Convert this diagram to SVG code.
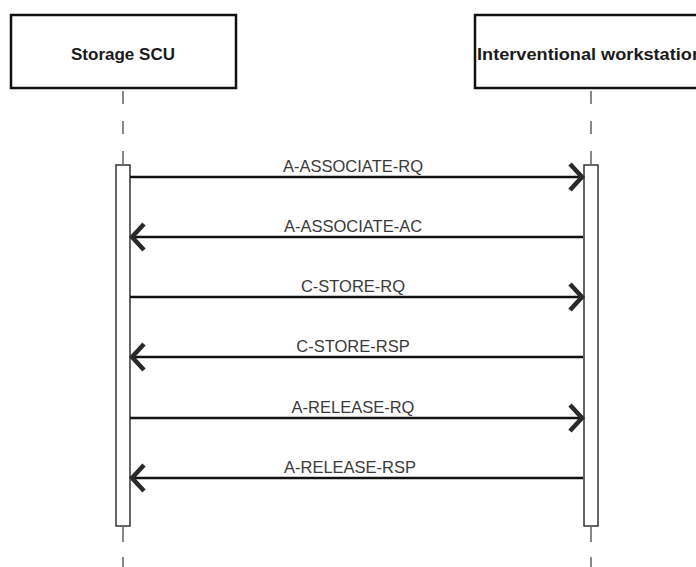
<svg xmlns="http://www.w3.org/2000/svg" width="696" height="567" viewBox="0 0 696 567">
<style>
.hdr{fill:#fff;stroke:#111;stroke-width:2.5}
.hdrt{font-family:"Liberation Sans",Arial,sans-serif;font-weight:bold;font-size:17px;fill:#1a1a1a;text-anchor:middle}
.life{stroke:#888;stroke-width:2;fill:none}
.bar{fill:#fff;stroke:#333;stroke-width:1.5}
.msg{stroke:#111;stroke-width:2.5;fill:none}
.lbl{font-family:"Liberation Sans",Arial,sans-serif;font-size:16.5px;fill:#3a3a3a;text-anchor:middle}
</style>
<defs>
<marker id="ah" markerUnits="userSpaceOnUse" markerWidth="20" markerHeight="32" refX="16" refY="16" orient="auto" viewBox="0 0 20 32">
<path d="M4 3 L16 16 L4 29" fill="none" stroke="#2a2a2a" stroke-width="4.5" stroke-linejoin="miter"/>
</marker>
</defs>
<rect width="696" height="567" fill="#fff"/>
<g id="storage-scu">
<rect class="hdr" x="11" y="15" width="225" height="73"/>
<text class="hdrt" x="123" y="60">Storage SCU</text>
<line class="life" x1="123" y1="91" x2="123" y2="165" stroke-dasharray="13 17"/>
<line class="life" x1="123" y1="527" x2="123" y2="567" stroke-dasharray="15 15"/>
<rect class="bar" x="116" y="165" width="14" height="361"/>
</g>
<g id="interventional-workstation">
<rect class="hdr" x="475" y="15" width="232" height="73"/>
<text class="hdrt" x="477" y="60" style="text-anchor:start" textLength="226" lengthAdjust="spacingAndGlyphs">Interventional workstation</text>
<line class="life" x1="591" y1="91" x2="591" y2="165" stroke-dasharray="13 17"/>
<line class="life" x1="591" y1="527" x2="591" y2="567" stroke-dasharray="15 15"/>
<rect class="bar" x="584" y="165" width="14" height="361"/>
</g>
<g id="connectors">
<line class="msg" x1="130" y1="177" x2="582" y2="177" marker-end="url(#ah)"/>
<text class="lbl" x="353" y="172">A-ASSOCIATE-RQ</text>
<line class="msg" x1="583" y1="237" x2="132" y2="237" marker-end="url(#ah)"/>
<text class="lbl" x="353" y="232">A-ASSOCIATE-AC</text>
<line class="msg" x1="130" y1="297" x2="582" y2="297" marker-end="url(#ah)"/>
<text class="lbl" x="353" y="292">C-STORE-RQ</text>
<line class="msg" x1="583" y1="357" x2="132" y2="357" marker-end="url(#ah)"/>
<text class="lbl" x="353" y="352">C-STORE-RSP</text>
<line class="msg" x1="130" y1="418" x2="582" y2="418" marker-end="url(#ah)"/>
<text class="lbl" x="353" y="413">A-RELEASE-RQ</text>
<line class="msg" x1="583" y1="478" x2="132" y2="478" marker-end="url(#ah)"/>
<text class="lbl" x="350" y="473">A-RELEASE-RSP</text>
</g>
</svg>
